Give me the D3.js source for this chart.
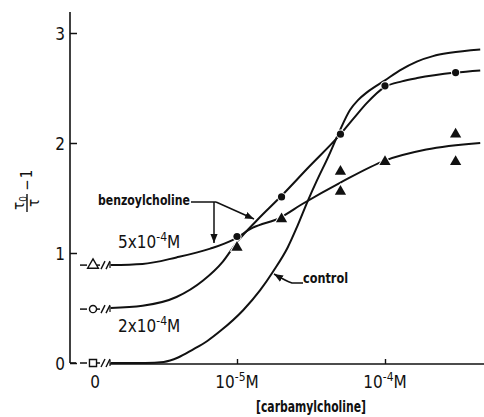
<!DOCTYPE html>
<html>
<head>
<meta charset="utf-8">
<script src="https://cdn.jsdelivr.net/npm/d3@7"></script>
<style>
  body { margin: 0; background: #fff; }
  svg text { font-family: 'DejaVu Sans Condensed', 'DejaVu Sans', sans-serif; font-stretch: condensed; fill: #111; }
</style>
</head>
<body>
<div id="chart"></div>
<script>
// values: [carbamylcholine] in M, y = tau0/tau - 1
const controlCurve = [[1.4e-6,0],[2.4e-6,0],[3.2e-6,0.01],[4e-6,0.05],[5e-6,0.12],[6.3e-6,0.2],[7.7e-6,0.29],
  [1.1e-5,0.48],[1.43e-5,0.66],[1.75e-5,0.83],[2.2e-5,1.05],[2.55e-5,1.24],[3e-5,1.47],[3.47e-5,1.66],
  [4.12e-5,1.87],[4.9e-5,2.1],[5.8e-5,2.3],[6.57e-5,2.39],[7.55e-5,2.46],[1e-4,2.57],[1.26e-4,2.66],
  [1.64e-4,2.74],[2.11e-4,2.79],[2.75e-4,2.82],[4.4e-4,2.85]];
const benz2Curve = [[1.4e-6,0.5],[2.3e-6,0.52],[3.9e-6,0.6],[5.9e-6,0.75],[8e-6,0.92],[1e-5,1.1],[1.37e-5,1.3],
  [2e-5,1.52],[3e-5,1.77],[5e-5,2.08],[6.2e-5,2.23],[7.5e-5,2.36],[1e-4,2.51],[1.3e-4,2.56],[1.65e-4,2.59],
  [3e-4,2.64],[4.4e-4,2.66]];
const benz5Curve = [[1.4e-6,0.89],[2.3e-6,0.9],[3.9e-6,0.96],[6.6e-6,1.04],[9.4e-6,1.12],[1.28e-5,1.23],
  [1.95e-5,1.32],[2.8e-5,1.45],[5e-5,1.64],[1e-4,1.84],[1.9e-4,1.94],[4.4e-4,2.0]];
const benz2Points = [[1e-5,1.15],[2e-5,1.51],[5e-5,2.08],[1e-4,2.52],[3e-4,2.64]];
const benz5Points = [[1e-5,1.05],[2e-5,1.31],[5e-5,1.74],[5e-5,1.56],[1e-4,1.83],[3e-4,2.08],[3e-4,1.83]];
// values at zero carbamylcholine (drawn left of the axis break)
const zeroValues = [["triangle",0.89],["circle",0.49],["square",0]];
const yTicks = [0,1,2,3];
const xTicks = [1e-5,1e-4];
const xTickExp = ["-5","-4"];

const width = 484, height = 417;
const svg = d3.select("#chart").append("svg").attr("width", width).attr("height", height);

const x = d3.scaleLog().domain([1e-5,1e-4]).range([237,385]);
const y = d3.scaleLinear().domain([0,3]).range([363,33]);
const xZero = 93;     // position of the "0" concentration
const xStart = 110;   // where the log axis begins after the break

svg.append("defs").append("marker")
  .attr("id","arrow").attr("viewBox","0 0 10 10").attr("refX",10).attr("refY",5)
  .attr("markerWidth",9).attr("markerHeight",9).attr("orient","auto").attr("markerUnits","userSpaceOnUse")
  .append("path").attr("d","M0,1 L10,5 L0,9 Z").attr("fill","#111");

// y axis
svg.append("line").attr("x1",70).attr("x2",70).attr("y1",12).attr("y2",y(0))
  .attr("stroke","#111").attr("stroke-width",1.6);
const yAxis = svg.append("g").attr("transform","translate(70,0)")
  .call(d3.axisLeft(y).tickValues(yTicks).tickSize(-7).tickPadding(5).tickFormat(d3.format("d")));
yAxis.select(".domain").remove();
yAxis.selectAll(".tick line").attr("stroke","#111").attr("stroke-width",1.5);
yAxis.selectAll(".tick text").attr("font-size",17).attr("dy","0.36em").attr("fill","#111");

// x axis (broken)
svg.append("line").attr("x1",70).attr("x2",76).attr("y1",y(0)).attr("y2",y(0))
  .attr("stroke","#111").attr("stroke-width",1.6);
svg.append("line").attr("x1",xStart).attr("x2",x(4.8e-4)).attr("y1",y(0)+1).attr("y2",y(0)+1)
  .attr("stroke","#111").attr("stroke-width",1.6);
const xAxis = svg.append("g").attr("transform",`translate(0,${y(0)+1})`)
  .call(d3.axisBottom(x).tickValues(xTicks).tickSize(-5).tickFormat(""));
xAxis.select(".domain").remove();
xAxis.selectAll(".tick line").attr("stroke","#111").attr("stroke-width",1.4);

xTicks.forEach((v,i) => {
  const t = svg.append("text").attr("x",x(v)).attr("y",388).attr("text-anchor","middle").attr("font-size",17);
  t.append("tspan").text("10");
  t.append("tspan").attr("dy",-7).attr("font-size",12).text(xTickExp[i]);
  t.append("tspan").attr("dy",7).text("M");
});
svg.append("text").attr("x",xZero+2).attr("y",388).attr("text-anchor","middle").attr("font-size",17).text("0");
svg.append("text").attr("x",256).attr("y",412).attr("font-size",15)
  .attr("font-weight","bold").attr("textLength",110).attr("lengthAdjust","spacingAndGlyphs").text("[carbamylcholine]");

// y label: tau0/tau - 1, rotated
const yl = svg.append("g").attr("transform","translate(27,203) rotate(-90)");
const num = yl.append("text").attr("x",0).attr("y",-3).attr("text-anchor","middle").attr("font-size",15);
num.append("tspan").text("τ");
num.append("tspan").attr("dy",3).attr("font-size",10).text("0");
yl.append("line").attr("x1",-9).attr("x2",9).attr("y1",0).attr("y2",0).attr("stroke","#111").attr("stroke-width",1.4);
yl.append("text").attr("x",0).attr("y",12).attr("text-anchor","middle").attr("font-size",15).text("τ");
yl.append("text").attr("x",18).attr("y",5).attr("text-anchor","middle").attr("font-size",15).text("−");
yl.append("text").attr("x",29).attr("y",5).attr("text-anchor","middle").attr("font-size",15).text("1");

// curves
const line = d3.line().x(d => x(d[0])).y(d => y(d[1])).curve(d3.curveMonotoneX);
[controlCurve, benz2Curve, benz5Curve].forEach(c => {
  svg.append("path").datum(c).attr("d",line).attr("fill","none")
    .attr("stroke","#111").attr("stroke-width",2);
});

// zero-concentration markers with break marks
const sym = { triangle: d3.symbolTriangle, circle: d3.symbolCircle, square: d3.symbolSquare };
zeroValues.forEach(([s,v]) => {
  const yy = y(v);
  svg.append("line").attr("x1",80).attr("x2",87).attr("y1",yy).attr("y2",yy).attr("stroke","#111").attr("stroke-width",1.5);
  svg.append("path").attr("d",d3.symbol(sym[s], s==="circle"?40:50)())
    .attr("transform",`translate(${xZero},${yy})`).attr("fill","#fff").attr("stroke","#111").attr("stroke-width",1.4);
  svg.append("line").attr("x1",97).attr("x2",100).attr("y1",yy).attr("y2",yy).attr("stroke","#111").attr("stroke-width",1.5);
  [101,106].forEach(bx => svg.append("line").attr("x1",bx).attr("x2",bx+4).attr("y1",yy+4).attr("y2",yy-4)
    .attr("stroke","#111").attr("stroke-width",1.4));
  svg.append("line").attr("x1",xStart).attr("x2",xStart).attr("y1",yy-3).attr("y2",yy+3).attr("stroke","#111").attr("stroke-width",1.2);
});

// data points
svg.selectAll(".tri").data(benz5Points).join("path").attr("class","tri")
  .attr("d",d3.symbol(d3.symbolTriangle,55)())
  .attr("transform",d => `translate(${x(d[0])},${y(d[1])})`)
  .attr("fill","#111").attr("stroke","#fff").attr("stroke-width",2).attr("paint-order","stroke");
svg.selectAll(".dot").data(benz2Points).join("circle").attr("class","dot")
  .attr("cx",d => x(d[0])).attr("cy",d => y(d[1])).attr("r",3.6)
  .attr("fill","#111").attr("stroke","#fff").attr("stroke-width",2).attr("paint-order","stroke");

// annotations
svg.append("text").attr("x",98).attr("y",205).attr("font-size",14).attr("font-weight","bold")
  .attr("textLength",92).attr("lengthAdjust","spacingAndGlyphs").text("benzoylcholine");
svg.append("path").attr("d","M191,202 L216,202").attr("stroke","#111").attr("stroke-width",1.5);
svg.append("path").attr("d","M216,202 L254,219").attr("stroke","#111").attr("stroke-width",1.5).attr("fill","none").attr("marker-end","url(#arrow)");
svg.append("path").attr("d","M214,202 L214,243").attr("stroke","#111").attr("stroke-width",1.5).attr("fill","none").attr("marker-end","url(#arrow)");

const t5 = svg.append("text").attr("x",118).attr("y",248).attr("font-size",17);
t5.append("tspan").text("5x10"); t5.append("tspan").attr("dy",-7).attr("font-size",12).text("-4");
t5.append("tspan").attr("dy",7).text("M");
const t2 = svg.append("text").attr("x",118).attr("y",332).attr("font-size",17);
t2.append("tspan").text("2x10"); t2.append("tspan").attr("dy",-7).attr("font-size",12).text("-4");
t2.append("tspan").attr("dy",7).text("M");

svg.append("text").attr("x",303).attr("y",283).attr("font-size",14).attr("font-weight","bold")
  .attr("textLength",45).attr("lengthAdjust","spacingAndGlyphs").text("control");
svg.append("path").attr("d","M303,283 L292,283 Q286,281 274,274").attr("stroke","#111").attr("stroke-width",1.5)
  .attr("fill","none").attr("marker-end","url(#arrow)");
</script>
</body>
</html>
